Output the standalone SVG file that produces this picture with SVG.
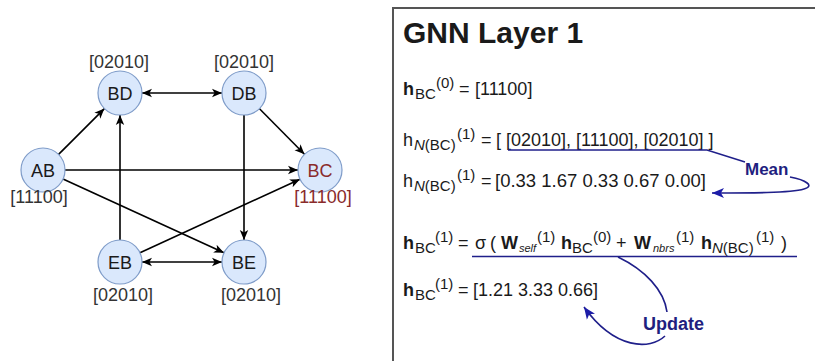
<svg xmlns="http://www.w3.org/2000/svg" width="815" height="361" viewBox="0 0 815 361">
<style>
text { font-family: "Liberation Sans", Arial, sans-serif; fill: #1a1a1a; }
.node circle { fill: #dae8fc; stroke: #7f9cc9; stroke-width: 1.2; }
.nl { font-size: 18px; text-anchor: middle; }
.val { font-size: 18px; text-anchor: middle; fill: #333; }
.red { fill: #8a2b2b; }
.edge { stroke: #000; stroke-width: 1.6; fill: none; }
.t { font-size: 18px; }
.b { font-weight: bold; }
.s { font-size: 15px; }
.tiny { font-size: 11px; font-style: italic; }
.i { font-style: italic; }
.blue { stroke: #1f1f8a; stroke-width: 1.6; fill: none; }
.bt { fill: #1f1f80; font-weight: bold; }
</style>
<defs>
<marker id="ah" viewBox="0 0 10 10" refX="10" refY="5" markerWidth="10" markerHeight="10" markerUnits="userSpaceOnUse" orient="auto-start-reverse">
<path d="M0,0.8 L10,5 L0,9.2 L2.6,5 z" fill="#000"/>
</marker>
<marker id="bh" viewBox="0 0 10 10" refX="10" refY="5" markerWidth="12" markerHeight="12" markerUnits="userSpaceOnUse" orient="auto">
<path d="M0,0.8 L10,5 L0,9.2 L2.6,5 z" fill="#1c1ca8"/>
</marker>
</defs>

<g id="connectors">
<line class="edge" x1="142" y1="93" x2="222" y2="93" marker-start="url(#ah)" marker-end="url(#ah)"/>
<line class="edge" x1="58.6" y1="154.4" x2="104.4" y2="108.6" marker-end="url(#ah)"/>
<line class="edge" x1="259.5" y1="108.7" x2="304.5" y2="154.3" marker-end="url(#ah)"/>
<line class="edge" x1="65" y1="170" x2="298" y2="170" marker-end="url(#ah)"/>
<line class="edge" x1="63" y1="179" x2="224" y2="252.8" marker-end="url(#ah)"/>
<line class="edge" x1="244" y1="115" x2="244" y2="240" marker-end="url(#ah)"/>
<line class="edge" x1="120" y1="240" x2="120" y2="115" marker-end="url(#ah)"/>
<line class="edge" x1="140" y1="252.8" x2="300" y2="179.2" marker-end="url(#ah)"/>
<line class="edge" x1="142" y1="262" x2="222" y2="262" marker-start="url(#ah)" marker-end="url(#ah)"/>
</g>

<g id="node-BD" class="node">
<circle cx="120" cy="93" r="22"/>
<text class="nl" x="120" y="99.5">BD</text>
<text class="val" x="119" y="68">[02010]</text>
</g>
<g id="node-DB" class="node">
<circle cx="244" cy="93" r="22"/>
<text class="nl" x="244" y="99.5">DB</text>
<text class="val" x="244" y="68">[02010]</text>
</g>
<g id="node-AB" class="node">
<circle cx="43" cy="170" r="22"/>
<text class="nl" x="43" y="176.5">AB</text>
<text class="val" x="39" y="203">[11100]</text>
</g>
<g id="node-BC" class="node">
<circle cx="320" cy="170" r="22"/>
<text class="nl red" x="320" y="176.5">BC</text>
<text class="val red" x="323" y="203">[11100]</text>
</g>
<g id="node-EB" class="node">
<circle cx="120" cy="262" r="22"/>
<text class="nl" x="120" y="268.5">EB</text>
<text class="val" x="123" y="301">[02010]</text>
</g>
<g id="node-BE" class="node">
<circle cx="244" cy="262" r="22"/>
<text class="nl" x="244" y="268.5">BE</text>
<text class="val" x="251" y="301">[02010]</text>
</g>

<g id="panel">
<path d="M393 361 L393 8 L815 8" fill="none" stroke="#555" stroke-width="2"/>
<text x="403" y="43" font-size="30" font-weight="bold" fill="#111">GNN Layer 1</text>

<text class="t" y="95"><tspan class="b" x="403">h</tspan><tspan class="s" x="415" y="99">BC</tspan><tspan class="s" x="436" y="88">(0)</tspan><tspan x="459" y="95">=</tspan><tspan x="475">[11100]</tspan></text>

<text class="t" y="146"><tspan x="403">h</tspan><tspan class="s i" x="414" y="150">N</tspan><tspan class="s">(BC)</tspan><tspan class="s" x="457" y="139">(1)</tspan><tspan x="481" y="146">=</tspan><tspan x="496">[ [02010], [11100], [02010] ]</tspan></text>

<text class="t" y="187"><tspan x="403">h</tspan><tspan class="s i" x="414" y="191">N</tspan><tspan class="s">(BC)</tspan><tspan class="s" x="457" y="180">(1)</tspan><tspan x="481" y="187">=</tspan><tspan x="495" font-size="18.5">[0.33 1.67 0.33 0.67 0.00]</tspan></text>

<text class="t" y="249"><tspan class="b" x="403">h</tspan><tspan class="s" x="415" y="253">BC</tspan><tspan class="s" x="435" y="242">(1)</tspan><tspan x="458" y="249">=</tspan><tspan x="475">σ</tspan><tspan x="490">(</tspan><tspan class="b" x="501">W</tspan><tspan class="tiny" x="519" y="252">self</tspan><tspan class="s" x="537" y="242">(1)</tspan><tspan class="b" x="561" y="249">h</tspan><tspan class="s" x="572" y="253">BC</tspan><tspan class="s" x="593" y="242">(0)</tspan><tspan x="616" y="249">+</tspan><tspan class="b" x="634">W</tspan><tspan class="tiny" x="653" y="252">nbrs</tspan><tspan class="s" x="676" y="242">(1)</tspan><tspan class="b" x="701" y="249">h</tspan><tspan class="s i" x="712" y="253">N</tspan><tspan class="s">(BC)</tspan><tspan class="s" x="756" y="242">(1)</tspan><tspan x="781" y="249">)</tspan></text>

<text class="t" y="296"><tspan class="b" x="403">h</tspan><tspan class="s" x="415" y="300">BC</tspan><tspan class="s" x="435" y="289">(1)</tspan><tspan x="458" y="296">=</tspan><tspan x="473">[1.21 3.33 0.66]</tspan></text>

<path class="blue" d="M508 150 L707 150 L745 162"/>
<text class="bt" x="745" y="175" font-size="17">Mean</text>
<path class="blue" d="M790 177 C806 180 815 186 804 189 C790 193 750 193 712 193" marker-end="url(#bh)"/>

<line class="blue" x1="472" y1="256.5" x2="797" y2="256.5"/>
<path class="blue" d="M618 257 C645 270 664 290 667 312"/>
<text class="bt" x="643" y="330" font-size="18">Update</text>
<path class="blue" d="M665 336 C650 350 615 350 584 307" marker-end="url(#bh)"/>
</g>
</svg>
